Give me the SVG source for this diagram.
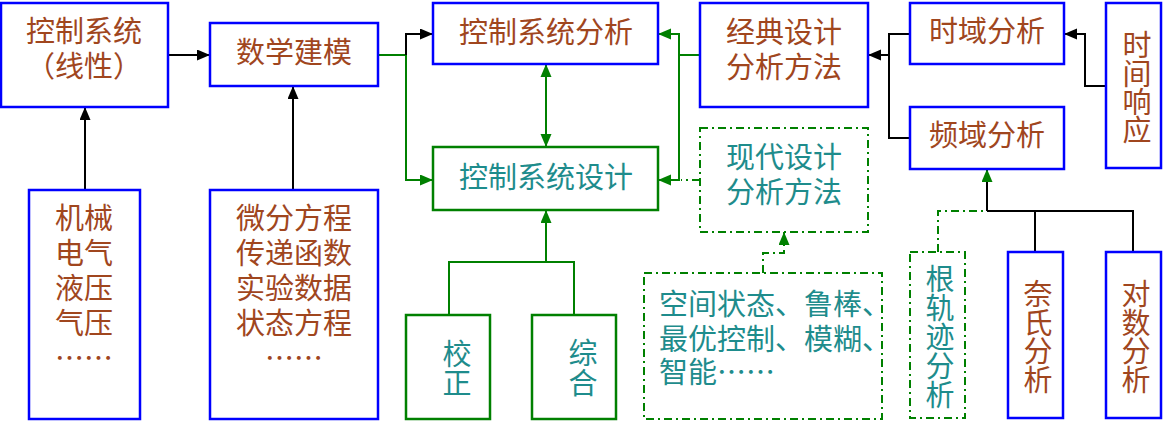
<svg xmlns="http://www.w3.org/2000/svg" width="1165" height="426" viewBox="0 0 1165 426">
<defs>
<marker id="ab" markerUnits="userSpaceOnUse" markerWidth="14" markerHeight="12" refX="13" refY="5.5" orient="auto"><path d="M0,0 L13,5.5 L0,11 z" fill="#000"/></marker>
<marker id="ag" markerUnits="userSpaceOnUse" markerWidth="14" markerHeight="12" refX="13" refY="5.5" orient="auto"><path d="M0,0 L13,5.5 L0,11 z" fill="#008000"/></marker>
<marker id="ags" markerUnits="userSpaceOnUse" markerWidth="14" markerHeight="12" refX="0" refY="5.5" orient="auto"><path d="M13,0 L0,5.5 L13,11 z" fill="#008000"/></marker>
</defs>
<style>
.bb{fill:#fff;stroke:#0000FF;stroke-width:2.5}
.gb{fill:#fff;stroke:#008000;stroke-width:2.5}
.db{fill:#fff;stroke:#008000;stroke-width:2;stroke-dasharray:8,4,2,4}
text{font-family:"Noto Sans CJK SC","Noto Sans CJK JP",sans-serif;font-size:29px;dominant-baseline:central}
tspan{dominant-baseline:central}
.br{fill:#A0461E}
.tl{fill:#1E8C8C}
.c{text-anchor:middle}
.k{fill:none;stroke:#000;stroke-width:2}
.g{fill:none;stroke:#008000;stroke-width:2}
.gd{fill:none;stroke:#008000;stroke-width:2;stroke-dasharray:8,4,2,4}
</style>
<g id="connectors">
<path class="k" d="M168,55 H210" marker-end="url(#ab)"/>
<path class="k" d="M85,190 V107" marker-end="url(#ab)"/>
<path class="k" d="M293,190 V86" marker-end="url(#ab)"/>
<path class="g" d="M378,55 H406"/>
<path class="k" d="M406,55 V34 H433" marker-end="url(#ab)"/>
<path class="g" d="M406,55 V180 H433" marker-end="url(#ag)"/>
<path class="g" d="M546,64 V147" marker-start="url(#ags)" marker-end="url(#ag)"/>
<path class="g" d="M700,55 H679 V34 H658" marker-end="url(#ag)"/>
<path class="g" d="M679,55 V180 H658" marker-end="url(#ag)"/>
<path class="gd" d="M700,180 H681"/>
<path class="gd" d="M763,273 V253 H784 V232" marker-end="url(#ag)"/>
<path class="g" d="M449,315 V262 H574 V315"/>
<path class="g" d="M546,262 V210" stroke-width="3" marker-end="url(#ag)"/>
<path class="k" d="M1106,86 H1085 V34 H1064" marker-end="url(#ab)"/>
<path class="k" d="M910,34 H889 V138 H910"/>
<path class="k" d="M889,55 H868" marker-end="url(#ab)"/>
<path class="k" d="M987,211 H1133 V252 M1035,211 V252"/>
<path class="k" d="M987,211 V169" marker-end="url(#ag)"/>
<path class="gd" d="M938,252 V211 H985"/>
</g>
<g id="n1"><rect class="bb" x="1" y="3" width="167" height="104"/><text class="br c" x="84" y="29">控制系统<tspan x="84" dy="35">（线性）</tspan></text></g>
<g id="n2"><rect class="bb" x="210" y="23" width="168" height="63"/><text class="br c" x="294" y="50">数学建模</text></g>
<g id="n3"><rect class="bb" x="29" y="190" width="111" height="229"/><text class="br c" x="84" y="216">机械<tspan x="84" dy="35">电气</tspan><tspan x="84" dy="35">液压</tspan><tspan x="84" dy="35">气压</tspan><tspan x="84" dy="35">……</tspan></text></g>
<g id="n4"><rect class="bb" x="210" y="190" width="168" height="229"/><text class="br c" x="294" y="216">微分方程<tspan x="294" dy="35">传递函数</tspan><tspan x="294" dy="35">实验数据</tspan><tspan x="294" dy="35">状态方程</tspan><tspan x="294" dy="35">……</tspan></text></g>
<g id="n5"><rect class="bb" x="433" y="3" width="225" height="61"/><text class="br c" x="546" y="30">控制系统分析</text></g>
<g id="n6"><rect class="gb" x="433" y="147" width="225" height="63"/><text class="tl c" x="546" y="175">控制系统设计</text></g>
<g id="n7"><rect class="bb" x="700" y="3" width="168" height="104"/><text class="br c" x="784" y="30">经典设计<tspan x="784" dy="35">分析方法</tspan></text></g>
<g id="n8"><rect class="db" x="700" y="128" width="168" height="104"/><text class="tl c" x="784" y="155">现代设计<tspan x="784" dy="35">分析方法</tspan></text></g>
<g id="n9"><rect class="db" x="644" y="273" width="238" height="146"/><text class="tl" x="659" y="302">空间状态、鲁棒、<tspan x="659" dy="35">最优控制、模糊、</tspan><tspan x="659" dy="33">智能……</tspan></text></g>
<g id="n10"><rect class="gb" x="406" y="315" width="84" height="104"/><text class="tl c" x="457" y="352">校<tspan x="457" dy="29">正</tspan></text></g>
<g id="n11"><rect class="gb" x="532" y="315" width="84" height="104"/><text class="tl c" x="583" y="351">综<tspan x="583" dy="30">合</tspan></text></g>
<g id="n12"><rect class="bb" x="910" y="3" width="154" height="61"/><text class="br c" x="987" y="29">时域分析</text></g>
<g id="n13"><rect class="bb" x="910" y="107" width="154" height="62"/><text class="br c" x="987" y="133">频域分析</text></g>
<g id="n14"><rect class="bb" x="1106" y="3" width="55" height="165"/><text class="br c" x="1137" y="43">时<tspan x="1137" dy="29">间</tspan><tspan x="1137" dy="28">响</tspan><tspan x="1137" dy="28">应</tspan></text></g>
<g id="n15"><rect class="db" x="910" y="252" width="55" height="166"/><text class="tl c" x="940" y="277">根<tspan x="940" dy="29">轨</tspan><tspan x="940" dy="29">迹</tspan><tspan x="940" dy="29">分</tspan><tspan x="940" dy="29">析</tspan></text></g>
<g id="n16"><rect class="bb" x="1008" y="252" width="55" height="166"/><text class="br c" x="1038" y="292">奈<tspan x="1038" dy="29">氏</tspan><tspan x="1038" dy="28">分</tspan><tspan x="1038" dy="29">析</tspan></text></g>
<g id="n17"><rect class="bb" x="1106" y="252" width="55" height="166"/><text class="br c" x="1136" y="292">对<tspan x="1136" dy="29">数</tspan><tspan x="1136" dy="28">分</tspan><tspan x="1136" dy="29">析</tspan></text></g>
</svg>
